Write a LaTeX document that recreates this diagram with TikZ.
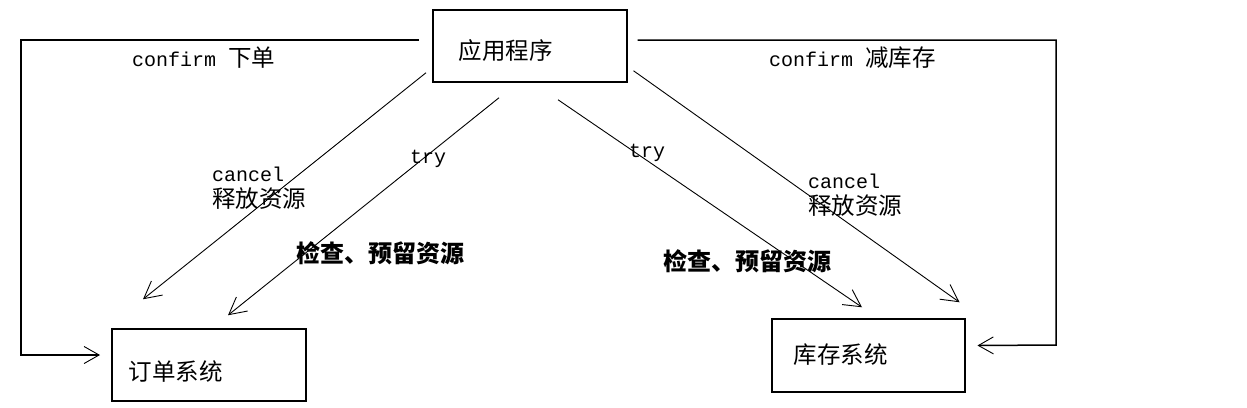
\documentclass[tikz,border=0pt]{standalone}
\usepackage{fontspec}
\setmonofont{Liberation Mono}
\newfontfamily\cjk{Noto Sans CJK SC}
\usepackage{tikz}
\usetikzlibrary{arrows.meta, calc}
\newcommand{\zhtext}[1]{{\cjk\fontsize{23.5}{28}\selectfont #1}}
\tikzset{
    box/.style={draw, line width=1.5pt, align=left, inner ysep=0pt, anchor=base west, font=\cjk\fontsize{23.5}{28}\selectfont},
    flow/.style={line width=0.9pt, -{Straight Barb[length=17pt, width=18pt, line width=0.9pt]}},
    feedback/.style={line width=1.5pt, -{Straight Barb[length=15pt, width=17pt, line width=0.9pt]}},
    tag/.style={anchor=base west, inner sep=0pt, align=left, font=\ttfamily\fontsize{20}{26}\selectfont},
    note/.style={anchor=base west, inner sep=0pt, font=\cjk\bfseries\fontsize{24}{28}\selectfont}
}

\begin{document}
\begin{tikzpicture}[x=1pt, y=-1pt]
    \useasboundingbox (0,0) rectangle (1247,407);
    % systems
    \node[box, inner xsep=26pt, text width=142pt, text height=49pt, text depth=23pt] (app) at (432,59) {应用程序};
    \node[box, inner xsep=17pt, text width=160pt, text height=51pt, text depth=21pt] (order) at (111,380) {订单系统};
    \node[box, inner xsep=22pt, text width=149pt, text height=44pt, text depth=29pt] (stock) at (771,363) {库存系统};
    % confirm loops
    \draw[feedback] ([shift={(-13,-6)}]app.west) -- (21,40) -- (21,355) -- ([shift={(-11,-10)}]order.west);
    \draw[feedback] ([shift={(10,-6)}]app.east) -- (1056,40) -- (1056,345) -- ([shift={(12,-10)}]stock.east);
    % try / cancel
    \draw[flow] ([shift={(-6,-10)}]app.south west) -- ([shift={(32,-29)}]order.north west);
    \draw[flow] ([shift={(67,15)}]app.south west) -- ([shift={(117,-13)}]order.north west);
    \draw[flow] ([shift={(126,17)}]app.south west) -- ([shift={(91,-11)}]stock.north west);
    \draw[flow] ([shift={(6,-12)}]app.south east) -- ([shift={(-6,-16)}]stock.north east);
    % labels
    \node[tag] (confirmorder) at (132,66) {confirm \zhtext{下单}};
    \node[tag] (confirmstock) at (769,66) {confirm \zhtext{减库存}};
    \node[tag] (cancelorder) at (212,207) {cancel\\\zhtext{释放资源}};
    \node[tag] (cancelstock) at (808,214) {cancel\\\zhtext{释放资源}};
    \node[tag] (tryorder) at (410,163) {try};
    \node[tag] (trystock) at (629,157) {try};
    \node[note] (checkorder) at (296,262) {检查、预留资源};
    \node[note] (checkstock) at (663,270) {检查、预留资源};
\end{tikzpicture}
\end{document}
